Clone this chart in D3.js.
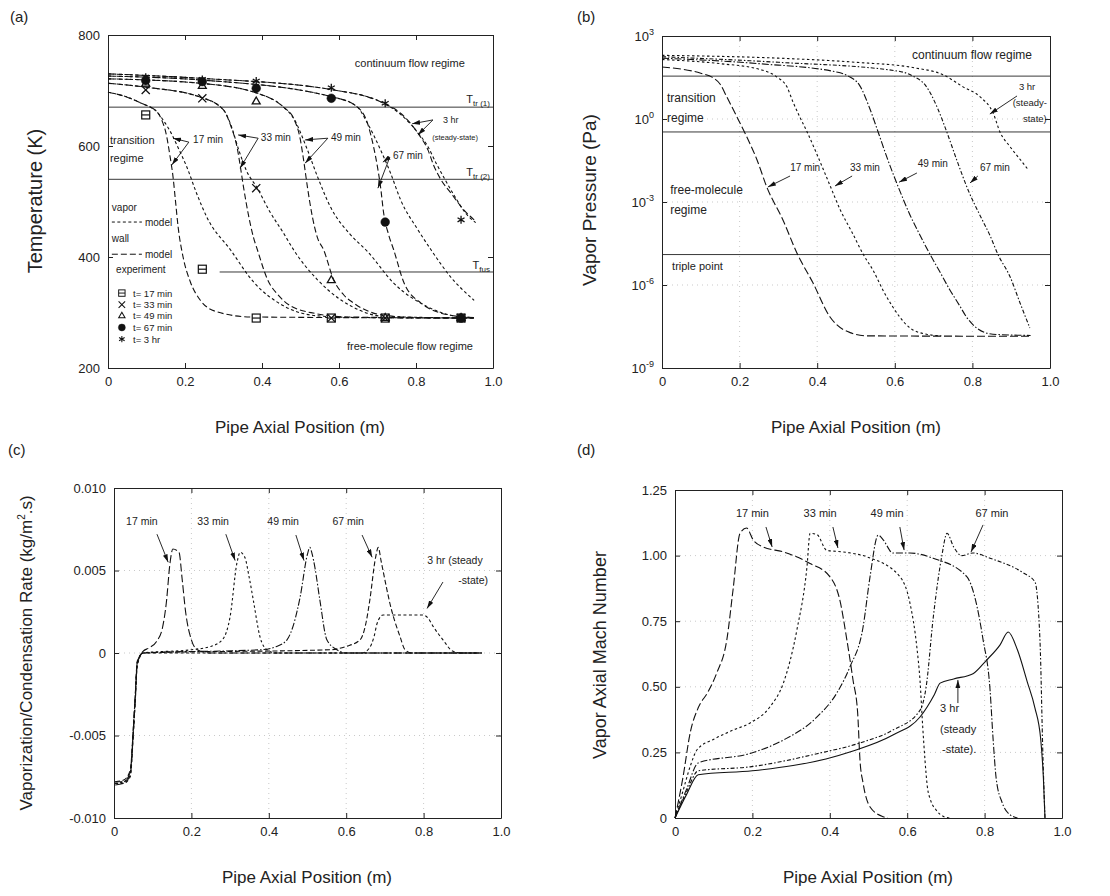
<!DOCTYPE html>
<html>
<head>
<meta charset="utf-8">
<script src="https://cdn.jsdelivr.net/npm/d3@7"></script>
<style>
  body { margin: 0; background: #fff; }
  svg { font-family: "Liberation Sans", Arial, sans-serif; }
  .axis path, .axis line { stroke: #222; stroke-width: 1; }
  .axis text { font-size: 13px; fill: #222; font-family: "Liberation Sans", Arial, sans-serif; }
  .curve { fill: none; stroke: #111; stroke-width: 1.1; }
  .grid line { stroke: #bbb; stroke-width: 0.8; stroke-dasharray: 1,4; }
</style>
</head>
<body>
<svg id="fig" width="1110" height="896"></svg>
<script>
// shared x axis (pipe axial position, m)
const posTicks = [0, 0.2, 0.4, 0.6, 0.8, 1.0];

// ---- (a) temperature, K ----
const tempTicks = [200, 400, 600, 800];
const tempWall17 = [[0,697],[0.05,688],[0.09,676],[0.128,661],[0.14,646],[0.151,622],[0.161,582],[0.169,544],[0.175,503],[0.182,455],[0.195,400],[0.214,355],[0.24,322],[0.284,301],[0.37,292],[0.95,290]];
const tempVapor17 = [[0,697],[0.05,688],[0.09,676],[0.128,661],[0.145,645],[0.165,622],[0.18,600],[0.206,560],[0.23,515],[0.258,470],[0.318,413],[0.378,355],[0.456,312],[0.544,294],[0.65,291],[0.95,290]];
const tempWall33 = [[0,713],[0.098,706],[0.24,688],[0.3,665],[0.318,638],[0.336,595],[0.344,562],[0.352,526],[0.365,475],[0.378,435],[0.388,413],[0.414,360],[0.444,330],[0.474,312],[0.54,298],[0.62,292],[0.95,290]];
const tempVapor33 = [[0,713],[0.098,706],[0.24,688],[0.3,665],[0.318,640],[0.34,592],[0.36,555],[0.388,524],[0.42,482],[0.456,443],[0.482,413],[0.544,359],[0.6,325],[0.63,312],[0.716,293],[0.95,290]];
const tempWall49 = [[0,721],[0.24,713],[0.388,695],[0.456,670],[0.482,650],[0.5,610],[0.508,575],[0.518,526],[0.531,472],[0.544,435],[0.56,413],[0.586,359],[0.612,332],[0.638,317],[0.716,295],[0.8,291],[0.95,290]];
const tempVapor49 = [[0,721],[0.24,713],[0.388,695],[0.456,670],[0.482,650],[0.518,593],[0.544,545],[0.578,490],[0.63,440],[0.674,410],[0.742,353],[0.831,310],[0.917,292],[0.95,291]];
const tempWall67 = [[0,726],[0.24,719],[0.586,688],[0.648,670],[0.674,641],[0.69,598],[0.7,562],[0.708,526],[0.716,479],[0.729,440],[0.742,413],[0.768,355],[0.813,317],[0.89,295],[0.95,291]];
const tempVapor67 = [[0,726],[0.24,719],[0.586,688],[0.648,670],[0.674,641],[0.708,593],[0.734,551],[0.76,503],[0.805,449],[0.839,413],[0.89,364],[0.951,322]];
const tempWall3h = [[0,730],[0.24,722],[0.586,701],[0.716,677],[0.76,659],[0.805,623],[0.831,593],[0.846,565],[0.865,539],[0.891,515],[0.924,485],[0.951,467]];
const tempVapor3h = [[0,730],[0.24,722],[0.586,701],[0.716,677],[0.76,657],[0.8,628],[0.83,600],[0.853,568],[0.875,540],[0.9,510],[0.93,478],[0.955,462]];
// experiment points
const expPos = [0.098, 0.245, 0.385, 0.58, 0.72, 0.917];
const exp17 = [656, 378, 290, 290, 290, 290];
const exp33 = [701, 686, 524, 290, 290, 290];
const exp49 = [712, 708, 680, 358, 290, 290];
const exp67 = [718, 716, 704, 686, 463, 290];
const exp3h = [724, 720, 717, 705, 677, 467];
const tempLevels = [670, 540, 373];   // T_tr(1), T_tr(2), T_fus

// ---- (b) vapor pressure, Pa ----
const pressTicks = [1e3, 1e0, 1e-3, 1e-6, 1e-9];
const press17 = [[0,76],[0.1,45],[0.13,32],[0.15,18],[0.167,6.3],[0.193,1.2],[0.219,0.22],[0.245,0.033],[0.27,3.5e-3],[0.312,2.2e-4],[0.348,1.4e-5],[0.389,1.2e-6],[0.433,7e-8],[0.451,3.6e-8],[0.485,1.9e-8],[0.528,1.45e-8],[0.95,1.4e-8]];
const press33 = [[0,141],[0.15,100],[0.25,63],[0.296,33],[0.322,14.5],[0.338,4],[0.356,1.12],[0.374,0.34],[0.4,0.05],[0.43,5e-3],[0.46,5e-4],[0.49,7.9e-5],[0.519,1.26e-5],[0.545,3.2e-6],[0.57,6.3e-7],[0.595,1.6e-7],[0.613,6.9e-8],[0.639,2.8e-8],[0.682,1.66e-8],[0.72,1.45e-8]];
const press49 = [[0,158],[0.25,100],[0.45,50],[0.48,35.5],[0.51,15.8],[0.535,2.5],[0.557,0.34],[0.58,0.04],[0.61,3.2e-3],[0.64,3.2e-4],[0.665,6.3e-5],[0.691,1.26e-5],[0.715,3.2e-6],[0.742,6.6e-7],[0.765,2e-7],[0.785,6.9e-8],[0.811,2.8e-8],[0.853,1.66e-8],[0.95,1.5e-8]];
const press67 = [[0,178],[0.3,112],[0.6,56],[0.647,35.5],[0.68,15.8],[0.71,2.5],[0.734,0.34],[0.76,0.032],[0.79,2.5e-3],[0.82,3.2e-4],[0.845,6.3e-5],[0.866,1.26e-5],[0.897,2e-6],[0.923,2.2e-7],[0.948,2.8e-8]];
const press3h = [[0,200],[0.3,158],[0.5,112],[0.65,71],[0.724,40],[0.776,14.5],[0.82,6.3],[0.854,1.58],[0.871,0.34],[0.897,0.1],[0.931,0.025],[0.945,0.014]];
const pressLevels = [35.5, 0.34, 1.26e-5];

// ---- (c) vaporization / condensation rate, kg/m2.s ----
const rateTicks = [-0.01, -0.005, 0, 0.005, 0.01];
const rate17 = [[0.003,-0.0080],[0.025,-0.0079],[0.042,-0.0074],[0.05,-0.0048],[0.055,-0.0028],[0.06,-0.0007],[0.075,0.0001],[0.09,0.0003],[0.11,0.0007],[0.125,0.0015],[0.135,0.003],[0.145,0.0055],[0.152,0.0063],[0.168,0.0061],[0.176,0.0045],[0.185,0.0025],[0.2,0.0008],[0.215,0.0002],[0.25,0],[0.95,0]];
const rate33 = [[0.003,-0.0079],[0.025,-0.0078],[0.042,-0.0073],[0.05,-0.0047],[0.055,-0.0027],[0.06,-0.0006],[0.075,0],[0.2,0.0002],[0.25,0.0004],[0.28,0.0008],[0.3,0.0022],[0.318,0.0055],[0.326,0.0061],[0.338,0.0058],[0.35,0.0045],[0.36,0.0032],[0.377,0.001],[0.395,0.0002],[0.42,0],[0.95,0]];
const rate49 = [[0.003,-0.0078],[0.025,-0.0078],[0.042,-0.0072],[0.05,-0.0046],[0.055,-0.0026],[0.06,-0.0006],[0.075,0],[0.38,0.0002],[0.42,0.0004],[0.447,0.0008],[0.465,0.0018],[0.481,0.0034],[0.5,0.006],[0.506,0.0064],[0.512,0.006],[0.519,0.0052],[0.532,0.0032],[0.55,0.0008],[0.576,0.0002],[0.6,0],[0.95,0]];
const rate67 = [[0.003,-0.0078],[0.025,-0.0077],[0.042,-0.0071],[0.05,-0.0045],[0.055,-0.0025],[0.06,-0.0005],[0.075,0],[0.56,0.0002],[0.6,0.0004],[0.636,0.0008],[0.65,0.0017],[0.661,0.0032],[0.676,0.0058],[0.683,0.0064],[0.69,0.0056],[0.702,0.0042],[0.713,0.003],[0.739,0.001],[0.752,0.0002],[0.77,0],[0.95,0]];
const rate3h = [[0.003,-0.0079],[0.025,-0.0079],[0.042,-0.0075],[0.05,-0.0049],[0.055,-0.0029],[0.06,-0.0008],[0.075,0],[0.64,0],[0.66,0.0003],[0.672,0.001],[0.68,0.0018],[0.695,0.0023],[0.798,0.0023],[0.812,0.0021],[0.825,0.0016],[0.85,0.0008],[0.876,0.0001],[0.9,0],[0.95,0]];

// ---- (d) vapor axial Mach number ----
const machTicks = [0, 0.25, 0.5, 0.75, 1.0, 1.25];
const mach17 = [[0,0],[0.02,0.15],[0.04,0.33],[0.06,0.42],[0.085,0.48],[0.108,0.553],[0.134,0.68],[0.15,0.87],[0.168,1.085],[0.185,1.105],[0.202,1.06],[0.228,1.033],[0.28,1.014],[0.349,0.97],[0.4,0.92],[0.426,0.83],[0.444,0.68],[0.46,0.526],[0.472,0.4],[0.478,0.22],[0.486,0.133],[0.504,0.042],[0.538,0.005],[0.55,0]];
const mach33 = [[0,0],[0.02,0.1],[0.04,0.2],[0.057,0.26],[0.1,0.3],[0.15,0.335],[0.194,0.362],[0.245,0.423],[0.28,0.514],[0.315,0.717],[0.341,0.957],[0.349,1.085],[0.367,1.08],[0.392,1.02],[0.434,1.014],[0.496,0.995],[0.581,0.92],[0.607,0.82],[0.625,0.65],[0.633,0.526],[0.64,0.35],[0.646,0.22],[0.652,0.12],[0.66,0.07],[0.675,0.03],[0.695,0.005],[0.71,0]];
const mach49 = [[0,0],[0.03,0.11],[0.06,0.21],[0.194,0.246],[0.28,0.297],[0.367,0.385],[0.418,0.476],[0.452,0.576],[0.486,0.728],[0.504,0.92],[0.525,1.078],[0.538,1.06],[0.563,1.01],[0.607,1.01],[0.667,0.99],[0.754,0.92],[0.775,0.84],[0.796,0.68],[0.814,0.49],[0.822,0.3],[0.83,0.15],[0.845,0.06],[0.86,0.02],[0.885,0]];
const mach67 = [[0,0],[0.03,0.1],[0.06,0.18],[0.194,0.195],[0.367,0.245],[0.478,0.286],[0.563,0.335],[0.633,0.41],[0.649,0.5],[0.667,0.76],[0.689,0.995],[0.703,1.085],[0.72,1.033],[0.741,1.0],[0.77,1.01],[0.814,0.99],[0.9,0.934],[0.93,0.9],[0.943,0.68],[0.951,0.22],[0.956,0]];
const mach3h = [[0,0],[0.03,0.09],[0.06,0.165],[0.2,0.18],[0.305,0.2],[0.39,0.225],[0.46,0.255],[0.563,0.316],[0.633,0.385],[0.67,0.47],[0.685,0.514],[0.72,0.53],[0.77,0.55],[0.804,0.6],[0.84,0.66],[0.861,0.709],[0.885,0.64],[0.91,0.52],[0.93,0.42],[0.945,0.3],[0.952,0.15],[0.956,0]];

// line styles
const DASH_LONG = "8,3";
const DASH_SHORT = "2.5,2.5";
const DASH_DOT = "7,2,1.5,2";
const DASH_DOT2 = "4,2,1.5,2";

const svg = d3.select("#fig");
svg.append("defs").append("marker")
  .attr("id", "arr").attr("viewBox", "0 0 10 6")
  .attr("refX", 10).attr("refY", 3)
  .attr("markerWidth", 8).attr("markerHeight", 5)
  .attr("markerUnits", "userSpaceOnUse").attr("orient", "auto")
  .append("path").attr("d", "M0,0L10,3L0,6Z").attr("fill", "#111");

const fmtPos = (d) => (d === 0 ? "0" : d.toFixed(1));

function frame(box, x, y, yTicks, yFmt, grid) {
  const g = svg.append("g");
  if (grid) {
    const gg = g.append("g").attr("class", "grid");
    gg.selectAll("line.v").data(posTicks.slice(1, -1)).join("line")
      .attr("x1", x).attr("x2", x).attr("y1", box.t).attr("y2", box.b);
    gg.selectAll("line.h").data(grid).join("line")
      .attr("x1", box.l).attr("x2", box.r).attr("y1", y).attr("y2", y);
  }
  g.append("g").attr("class", "axis").attr("transform", `translate(0,${box.b})`)
    .call(d3.axisBottom(x).tickValues(posTicks).tickFormat(fmtPos)
      .tickSizeInner(-5).tickSizeOuter(0).tickPadding(9));
  g.append("g").attr("class", "axis").attr("transform", `translate(0,${box.t})`)
    .call(d3.axisTop(x).tickValues(posTicks).tickFormat("")
      .tickSizeInner(-5).tickSizeOuter(0));
  const left = g.append("g").attr("class", "axis").attr("transform", `translate(${box.l},0)`)
    .call(d3.axisLeft(y).tickValues(yTicks).tickFormat(yFmt)
      .tickSizeInner(-5).tickSizeOuter(0).tickPadding(8));
  g.append("g").attr("class", "axis").attr("transform", `translate(${box.r},0)`)
    .call(d3.axisRight(y).tickValues(yTicks).tickFormat("")
      .tickSizeInner(-5).tickSizeOuter(0));
  return { g, left };
}

function curve(g, x, y, pts, dash, width) {
  const line = d3.line().x((d) => x(d[0])).y((d) => y(d[1])).curve(d3.curveMonotoneX);
  const p = g.append("path").datum(pts).attr("class", "curve").attr("d", line);
  if (dash) p.attr("stroke-dasharray", dash);
  if (width) p.attr("stroke-width", width);
}

function level(g, x, y, v, x0) {
  g.append("line").attr("x1", x(x0 || 0)).attr("x2", x(1)).attr("y1", y(v)).attr("y2", y(v))
    .attr("stroke", "#222").attr("stroke-width", 0.9);
}

function note(g, px, py, s, size, anchor) {
  return g.append("text").attr("x", px).attr("y", py)
    .attr("font-size", size || 11).attr("text-anchor", anchor || "start")
    .attr("fill", "#222").text(s);
}

function arrow(g, x1, y1, x2, y2) {
  g.append("line").attr("x1", x1).attr("y1", y1).attr("x2", x2).attr("y2", y2)
    .attr("stroke", "#111").attr("stroke-width", 0.9).attr("marker-end", "url(#arr)");
}

function yTitle(px, py, size) {
  return svg.append("text").attr("transform", `translate(${px},${py}) rotate(-90)`)
    .attr("text-anchor", "middle").attr("font-size", size).attr("fill", "#222");
}

function xTitle(px, py) {
  svg.append("text").attr("x", px).attr("y", py).attr("text-anchor", "middle")
    .attr("font-size", 17).attr("fill", "#222").text("Pipe Axial Position (m)");
}

function tag(px, py, s) {
  svg.append("text").attr("x", px).attr("y", py).attr("font-size", 15).attr("fill", "#222").text(s);
}

// ================= (a) =================
{
  const box = { l: 108, r: 493, t: 35, b: 368 };
  const x = d3.scaleLinear().domain([0, 1]).range([box.l, box.r]);
  const y = d3.scaleLinear().domain([200, 800]).range([box.b, box.t]);
  const { g } = frame(box, x, y, tempTicks, d3.format("d"));

  level(g, x, y, tempLevels[0]);
  level(g, x, y, tempLevels[1]);
  level(g, x, y, tempLevels[2], 0.29);

  [[tempWall17, tempVapor17], [tempWall33, tempVapor33], [tempWall49, tempVapor49],
   [tempWall67, tempVapor67], [tempWall3h, tempVapor3h]].forEach(([w, v]) => {
    curve(g, x, y, w, "6,3");
    curve(g, x, y, v, "3,2.5");
  });

  const symbols = [
    { vals: exp17, type: "boxline" },
    { vals: exp33, type: d3.symbolTimes },
    { vals: exp49, type: d3.symbolTriangle2 },
    { vals: exp67, type: d3.symbolCircle, fill: true },
    { vals: exp3h, type: d3.symbolAsterisk },
  ];
  function drawMark(sel, s) {
    if (s.type === "boxline") {
      sel.append("rect").attr("x", -4).attr("y", -4).attr("width", 8).attr("height", 8)
        .attr("fill", "#fff").attr("stroke", "#111").attr("stroke-width", 1.2);
      sel.append("line").attr("x1", -4).attr("x2", 4).attr("y1", 0).attr("y2", 0)
        .attr("stroke", "#111").attr("stroke-width", 1.2);
    } else {
      sel.append("path").attr("d", d3.symbol().type(s.type).size(s.fill ? 60 : 45)())
        .attr("fill", s.fill ? "#111" : "none").attr("stroke", "#111")
        .attr("stroke-width", s.fill ? 0.5 : 1.3);
    }
  }
  symbols.forEach((s) => {
    s.vals.forEach((t, i) => {
      const m = g.append("g").attr("transform", `translate(${x(expPos[i])},${y(t)})`);
      drawMark(m, s);
    });
  });

  // regime labels
  note(g, x(0.784), y(742), "continuum flow regime", 11, "middle");
  note(g, x(0.005), y(604), "transition", 11);
  note(g, x(0.005), y(571), "regime", 11);
  note(g, x(0.948), y(232), "free-molecule flow regime", 11, "end");
  [["tr (1)", 677], ["tr (2)", 546], ["fus", 378]].forEach(([sub, t]) => {
    const tx = note(g, x(0.992), y(t), "T", 11, "end");
    tx.append("tspan").attr("font-size", 8).attr("dy", 3).text(sub);
  });

  // legend
  note(g, x(0.01), y(483), "vapor", 10);
  g.append("line").attr("x1", x(0.01)).attr("x2", x(0.088)).attr("y1", y(463)).attr("y2", y(463))
    .attr("stroke", "#111").attr("stroke-dasharray", "3,2.5");
  note(g, x(0.096), y(456), "model", 10);
  note(g, x(0.01), y(427), "wall", 10);
  g.append("line").attr("x1", x(0.01)).attr("x2", x(0.088)).attr("y1", y(405)).attr("y2", y(405))
    .attr("stroke", "#111").attr("stroke-dasharray", "6,3");
  note(g, x(0.096), y(398), "model", 10);
  note(g, x(0.021), y(371), "experiment", 10);
  const legRows = [335, 314, 294, 273, 252];
  const legText = ["t= 17 min", "t= 33 min", "t= 49 min", "t= 67 min", "t= 3 hr"];
  symbols.forEach((s, i) => {
    const m = g.append("g").attr("transform", `translate(${x(0.036)},${y(legRows[i])}) scale(0.8)`);
    drawMark(m, s);
    note(g, x(0.065), y(legRows[i]) + 3.5, legText[i], 9.5);
  });

  // time annotations
  const timeA = [
    ["17 min", 0.221, 605, [0.21, 607], [0.169, 614], [0.166, 566]],
    ["33 min", 0.397, 609, [0.39, 614], [0.338, 620], [0.343, 560]],
    ["49 min", 0.579, 609, [0.571, 614], [0.512, 611], [0.512, 569]],
    ["67 min", 0.74, 577, [0.732, 580], [0.714, 571], [0.701, 524]],
  ];
  timeA.forEach(([s, tx, ty, a, p1, p2]) => {
    note(g, x(tx), y(ty), s, 10);
    arrow(g, x(a[0]), y(a[1]), x(p1[0]), y(p1[1]));
    arrow(g, x(a[0]), y(a[1]), x(p2[0]), y(p2[1]));
  });
  note(g, x(0.87), y(641), "3 hr", 9);
  note(g, x(0.842), y(611), "(steady-state)", 7.5);
  arrow(g, x(0.844), y(647), x(0.79), y(640));
  arrow(g, x(0.844), y(647), x(0.805), y(620));

  tag(10, 22, "(a)");
  yTitle(42, 201, 20).text("Temperature (K)");
  xTitle(300, 433);
}

// ================= (b) =================
{
  const box = { l: 662, r: 1050, t: 36, b: 368 };
  const x = d3.scaleLinear().domain([0, 1]).range([box.l, box.r]);
  const y = d3.scaleLog().domain([1e-9, 1e3]).range([box.b, box.t]);
  const { g, left } = frame(box, x, y, pressTicks, () => "10", pressTicks.slice(1, -1));
  left.selectAll(".tick text").append("tspan")
    .attr("dy", "-0.6em").attr("font-size", "9px")
    .text((d) => Math.round(Math.log10(d)));

  pressLevels.forEach((v) => level(g, x, y, v));

  curve(g, x, y, press17, DASH_LONG);
  curve(g, x, y, press33, DASH_SHORT);
  curve(g, x, y, press49, DASH_DOT);
  curve(g, x, y, press67, DASH_DOT2);
  curve(g, x, y, press3h, DASH_SHORT);

  note(g, x(0.799), y(148), "continuum flow regime", 12, "middle");
  note(g, x(0.013), y(4.1), "transition", 12);
  note(g, x(0.013), y(0.78), "regime", 12);
  note(g, x(0.021), y(1.95e-3), "free-molecule", 12);
  note(g, x(0.021), y(3.7e-4), "regime", 12);
  note(g, x(0.026), y(3.5e-6), "triple point", 11);
  note(g, x(0.941), y(11.2), "3 hr", 9.5, "middle");
  note(g, x(0.948), y(2.95), "(steady-", 9.5, "middle");
  note(g, x(0.961), y(0.78), "state)", 9.5, "middle");
  arrow(g, x(0.915), y(6.8), x(0.845), y(1.51));

  const timeB = [
    ["17 min", 0.369, 0.013, [0.33, 8.7e-3], [0.273, 3.5e-3]],
    ["33 min", 0.523, 0.013, [0.49, 8.7e-3], [0.446, 3.8e-3]],
    ["49 min", 0.698, 0.0186, [0.657, 0.0112], [0.611, 5.2e-3]],
    ["67 min", 0.858, 0.013, [0.814, 8.7e-3], [0.794, 4.9e-3]],
  ];
  timeB.forEach(([s, tx, ty, a, p]) => {
    note(g, x(tx), y(ty), s, 10, "middle");
    arrow(g, x(a[0]), y(a[1]), x(p[0]), y(p[1]));
  });

  tag(577, 22, "(b)");
  yTitle(596, 200, 19).text("Vapor Pressure  (Pa)");
  xTitle(856, 433);
}

// ================= (c) =================
{
  const box = { l: 114, r: 501, t: 488, b: 818 };
  const x = d3.scaleLinear().domain([0, 1]).range([box.l, box.r]);
  const y = d3.scaleLinear().domain([-0.01, 0.01]).range([box.b, box.t]);
  const { g } = frame(box, x, y, rateTicks, (d) => (d === 0 ? "0" : d3.format(".3f")(d).replace("−", "-")),
    rateTicks.slice(1, -1));

  curve(g, x, y, rate17, DASH_LONG);
  curve(g, x, y, rate33, DASH_SHORT);
  curve(g, x, y, rate49, DASH_DOT);
  curve(g, x, y, rate67, "5,2.5");
  curve(g, x, y, rate3h, "3,2.5");

  const timeC = [
    ["17 min", 0.072, [0.111, 0.0072], [0.14, 0.0055]],
    ["33 min", 0.256, [0.289, 0.0072], [0.313, 0.0056]],
    ["49 min", 0.437, [0.47, 0.00715], [0.491, 0.0056]],
    ["67 min", 0.605, [0.641, 0.00715], [0.667, 0.0058]],
  ];
  timeC.forEach(([s, tx, a, p]) => {
    note(g, x(tx), y(0.00776), s, 10.5, "middle");
    arrow(g, x(a[0]), y(a[1]), x(p[0]), y(p[1]));
  });
  note(g, x(0.881), y(0.0054), "3 hr (steady", 10.5, "middle");
  note(g, x(0.928), y(0.0042), "-state)", 10.5, "middle");
  arrow(g, x(0.85), y(0.0043), x(0.809), y(0.0027));

  tag(8, 455, "(c)");
  const t = yTitle(32, 653, 17).text("Vaporization/Condensation Rate (kg/m");
  t.append("tspan").attr("dy", -7).attr("font-size", 10).text("2");
  t.append("tspan").attr("dy", 7).text(".s)");
  xTitle(307, 883);
}

// ================= (d) =================
{
  const box = { l: 675, r: 1062, t: 490, b: 818 };
  const x = d3.scaleLinear().domain([0, 1]).range([box.l, box.r]);
  const y = d3.scaleLinear().domain([0, 1.25]).range([box.b, box.t]);
  const { g } = frame(box, x, y, machTicks, (d) => (d === 0 ? "0" : d.toFixed(2)),
    machTicks.slice(1, -1));

  curve(g, x, y, mach17, DASH_LONG);
  curve(g, x, y, mach33, DASH_SHORT);
  curve(g, x, y, mach49, DASH_DOT);
  curve(g, x, y, mach67, DASH_DOT2);
  curve(g, x, y, mach3h, null, 1.8);

  const timeD = [
    ["17 min", 0.2, [0.235, 1.109], [0.251, 1.033]],
    ["33 min", 0.375, [0.408, 1.109], [0.421, 1.029]],
    ["49 min", 0.548, [0.581, 1.109], [0.592, 1.021]],
    ["67 min", 0.819, [0.796, 1.117], [0.765, 1.014]],
  ];
  timeD.forEach(([s, tx, a, p]) => {
    note(g, x(tx), y(1.147), s, 11, "middle");
    arrow(g, x(a[0]), y(a[1]), x(p[0]), y(p[1]));
  });
  note(g, x(0.685), y(0.404), "3 hr", 11);
  note(g, x(0.685), y(0.324), "(steady", 11);
  note(g, x(0.69), y(0.248), "-state).", 11);
  arrow(g, x(0.731), y(0.438), x(0.731), y(0.526));

  tag(577, 455, "(d)");
  yTitle(606, 655, 18).text("Vapor Axial Mach Number");
  xTitle(868, 883);
}
</script>
</body>
</html>
